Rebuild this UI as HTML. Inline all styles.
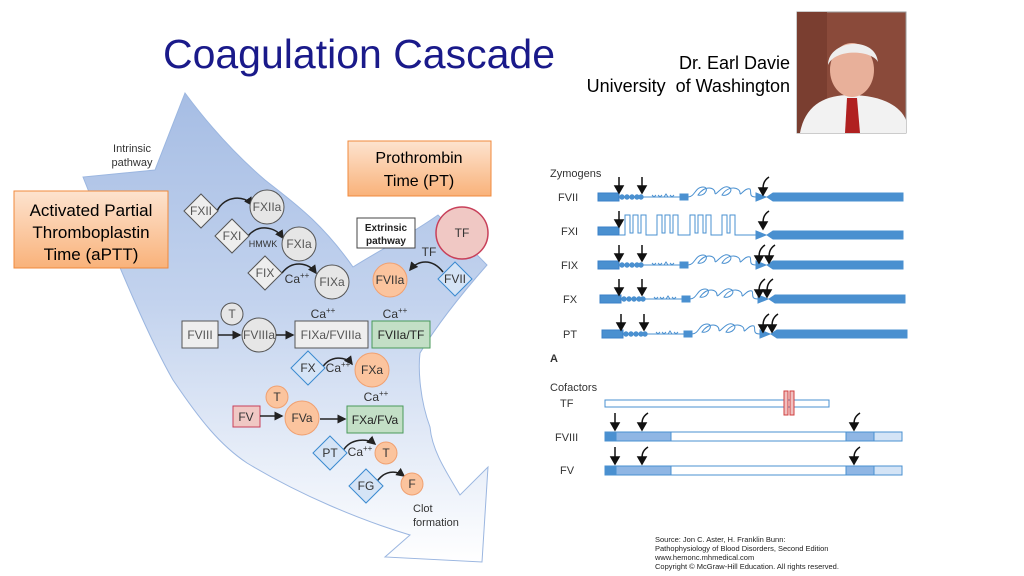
<!DOCTYPE html>
<html><head><meta charset="utf-8"><style>
html,body{margin:0;padding:0;background:#fff;}
svg{display:block;font-family:"Liberation Sans",Arial,sans-serif;}
</style></head><body>
<svg width="1024" height="576" viewBox="0 0 1024 576" xmlns="http://www.w3.org/2000/svg">
<defs>
<linearGradient id="ag" x1="0" y1="0" x2="0" y2="1">
<stop offset="0" stop-color="#a6bde4"/><stop offset="0.45" stop-color="#c3d3ee"/><stop offset="1" stop-color="#ffffff"/>
</linearGradient>
<linearGradient id="og" x1="0" y1="0" x2="0" y2="1">
<stop offset="0" stop-color="#fde3cf"/><stop offset="1" stop-color="#f9b27a"/>
</linearGradient>
<marker id="ah" markerWidth="6" markerHeight="6" refX="5" refY="3" orient="auto"><path d="M0,0 L6,3 L0,6 z" fill="#222"/></marker>
</defs>

<!-- big arrow -->
<path d="M185,93 L155,170 L83,177 C120,270 150,340 173,380 C200,420 220,445 247,463 C300,495 360,520 410,535 L385,557 L482,562 L488,467 L460,495 C445,470 432,450 430,427 C420,400 418,370 420,353 C440,320 465,290 487,265 L438,215 C410,235 380,250 353,267 C320,220 290,200 265,180 C230,150 205,120 185,93 Z" fill="url(#ag)" stroke="#9bb6e0" stroke-width="1"/>

<text x="359" y="68" font-size="41" fill="#1a1a8a" text-anchor="middle">Coagulation Cascade</text>
<text x="790" y="69" font-size="18" text-anchor="end">Dr. Earl Davie</text>
<text x="790" y="92" font-size="18" text-anchor="end">University&#160;&#160;of Washington</text>

<!-- photo -->
<rect x="797" y="12" width="109" height="121" fill="#8a4a3a" stroke="#999"/>
<rect x="797" y="12" width="30" height="121" fill="#7a3e30"/>
<path d="M800,133 C805,105 825,95 850,95 C880,95 900,105 906,120 L906,133 Z" fill="#f2f2f2"/>
<ellipse cx="852" cy="70" rx="22" ry="27" fill="#e8b09a"/>
<path d="M828,65 C828,40 875,35 878,62 C872,50 835,48 828,65 Z" fill="#eeeeee"/>
<path d="M847,98 L857,98 L860,133 L845,133 Z" fill="#b02020"/>

<text x="132" y="152" font-size="11" fill="#333" text-anchor="middle">Intrinsic</text>
<text x="132" y="166" font-size="11" fill="#333" text-anchor="middle">pathway</text>

<rect x="14" y="191" width="154" height="77" fill="url(#og)" stroke="#f08a3c" stroke-width="1"/>
<text x="91" y="216" font-size="17" text-anchor="middle">Activated Partial</text>
<text x="91" y="238" font-size="17" text-anchor="middle">Thromboplastin</text>
<text x="91" y="260" font-size="17" text-anchor="middle">Time (aPTT)</text>

<rect x="348" y="141" width="143" height="55" fill="url(#og)" stroke="#f08a3c" stroke-width="1"/>
<text x="419" y="163" font-size="16" text-anchor="middle">Prothrombin</text>
<text x="419" y="186" font-size="16" text-anchor="middle">Time (PT)</text>

<g font-size="12" fill="#555" text-anchor="middle">
<path d="M217,211 C225,195 245,195 252,205" fill="none" stroke="#222" stroke-width="1.5" marker-end="url(#ah)"/>
<polygon points="201,194 218,211 201,228 184,211" fill="#eee" stroke="#555"/>
<text x="201" y="215">FXII</text>
<circle cx="267" cy="207" r="17" fill="#e6e6e6" stroke="#555"/>
<text x="267" y="211">FXIIa</text>

<path d="M248,236 C258,224 275,226 283,238" fill="none" stroke="#222" stroke-width="1.5" marker-end="url(#ah)"/>
<polygon points="232,219 249,236 232,253 215,236" fill="#eee" stroke="#555"/>
<text x="232" y="240">FXI</text>
<text x="263" y="247" font-size="9" fill="#333">HMWK</text>
<circle cx="299" cy="244" r="17" fill="#e6e6e6" stroke="#555"/>
<text x="299" y="248">FXIa</text>

<path d="M282,273 C292,260 308,262 316,273" fill="none" stroke="#222" stroke-width="1.5" marker-end="url(#ah)"/>
<polygon points="265,256 282,273 265,290 248,273" fill="#eee" stroke="#555"/>
<text x="265" y="277">FIX</text>
<text x="297" y="283" fill="#333">Ca<tspan font-size="8" dy="-5">++</tspan></text>
<circle cx="332" cy="282" r="17" fill="#e6e6e6" stroke="#555"/>
<text x="332" y="286">FIXa</text>

<circle cx="232" cy="314" r="11" fill="#e6e6e6" stroke="#555"/>
<text x="232" y="318">T</text>
<rect x="182" y="321" width="36" height="27" fill="#eee" stroke="#555"/>
<text x="200" y="339">FVIII</text>
<line x1="218" y1="335" x2="240" y2="335" stroke="#222" stroke-width="1.5" marker-end="url(#ah)"/>
<circle cx="259" cy="335" r="17" fill="#e6e6e6" stroke="#555"/>
<text x="259" y="339">FVIIIa</text>
<line x1="276" y1="335" x2="293" y2="335" stroke="#222" stroke-width="1.5" marker-end="url(#ah)"/>
<rect x="295" y="321" width="73" height="27" fill="#eee" stroke="#555"/>
<text x="331" y="339">FIXa/FVIIIa</text>
<text x="323" y="318" fill="#333">Ca<tspan font-size="8" dy="-5">++</tspan></text>
<rect x="372" y="321" width="58" height="27" fill="#c3dfc6" stroke="#4a9a5a"/>
<text x="401" y="339" fill="#222">FVIIa/TF</text>
<text x="395" y="318" fill="#333">Ca<tspan font-size="8" dy="-5">++</tspan></text>

<rect x="357" y="218" width="58" height="30" fill="#fff" stroke="#444"/>
<text x="386" y="231" font-size="10" font-weight="bold" fill="#222">Extrinsic</text>
<text x="386" y="244" font-size="10" font-weight="bold" fill="#222">pathway</text>
<circle cx="462" cy="233" r="26" fill="#f0c8c4" stroke="#c8405a" stroke-width="1.5"/>
<text x="462" y="237" fill="#333">TF</text>
<text x="429" y="256" fill="#333">TF</text>
<path d="M443,272 C432,258 418,260 410,270" fill="none" stroke="#222" stroke-width="1.5" marker-end="url(#ah)"/>
<circle cx="390" cy="280" r="17" fill="#fbc49e" stroke="#f0a070"/>
<text x="390" y="284" fill="#333">FVIIa</text>
<polygon points="455,262 472,279 455,296 438,279" fill="#d5e4f6" stroke="#3a8ad0"/>
<text x="455" y="283" fill="#333">FVII</text>

<path d="M322,368 C330,355 346,356 352,364" fill="none" stroke="#222" stroke-width="1.5" marker-end="url(#ah)"/>
<polygon points="308,351 325,368 308,385 291,368" fill="#d5e4f6" stroke="#3a8ad0"/>
<text x="308" y="372" fill="#333">FX</text>
<text x="338" y="372" fill="#333">Ca<tspan font-size="8" dy="-5">++</tspan></text>
<circle cx="372" cy="370" r="17" fill="#fbc49e" stroke="#f0a070"/>
<text x="372" y="374" fill="#333">FXa</text>

<circle cx="277" cy="397" r="11" fill="#fbc49e" stroke="#f0a070"/>
<text x="277" y="401" fill="#333">T</text>
<rect x="233" y="406" width="27" height="21" fill="#f0c8c4" stroke="#c8405a"/>
<text x="246" y="421" fill="#333">FV</text>
<line x1="260" y1="416" x2="282" y2="416" stroke="#222" stroke-width="1.5" marker-end="url(#ah)"/>
<circle cx="302" cy="418" r="17" fill="#fbc49e" stroke="#f0a070"/>
<text x="302" y="422" fill="#333">FVa</text>
<line x1="320" y1="419" x2="345" y2="419" stroke="#222" stroke-width="1.5" marker-end="url(#ah)"/>
<rect x="347" y="406" width="56" height="27" fill="#c3dfc6" stroke="#4a9a5a"/>
<text x="375" y="424" fill="#222">FXa/FVa</text>
<text x="376" y="401" fill="#333">Ca<tspan font-size="8" dy="-5">++</tspan></text>

<path d="M343,451 C350,438 368,438 375,444" fill="none" stroke="#222" stroke-width="1.5" marker-end="url(#ah)"/>
<polygon points="330,436 347,453 330,470 313,453" fill="#d5e4f6" stroke="#3a8ad0"/>
<text x="330" y="457" fill="#333">PT</text>
<text x="360" y="456" fill="#333">Ca<tspan font-size="8" dy="-5">++</tspan></text>
<circle cx="386" cy="453" r="11" fill="#fbc49e" stroke="#f0a070"/>
<text x="386" y="457" fill="#333">T</text>

<path d="M376,483 C384,470 396,470 404,476" fill="none" stroke="#222" stroke-width="1.5" marker-end="url(#ah)"/>
<polygon points="366,469 383,486 366,503 349,486" fill="#d5e4f6" stroke="#3a8ad0"/>
<text x="366" y="490" fill="#333">FG</text>
<circle cx="412" cy="484" r="11" fill="#fbc49e" stroke="#f0a070"/>
<text x="412" y="488" fill="#333">F</text>
<text x="413" y="512" fill="#333" text-anchor="start" font-size="11">Clot</text>
<text x="413" y="526" fill="#333" text-anchor="start" font-size="11">formation</text>
</g>

<g font-size="11" fill="#333">
<text x="550" y="177">Zymogens</text>
<text x="558" y="201">FVII</text>
<text x="561" y="235">FXI</text>
<text x="561" y="269">FIX</text>
<text x="563" y="303">FX</text>
<text x="563" y="338">PT</text>
<text x="550" y="362" font-weight="bold">A</text>
<text x="550" y="391">Cofactors</text>
<text x="560" y="407">TF</text>
<text x="555" y="441">FVIII</text>
<text x="560" y="474">FV</text>
</g>

<g stroke="#4a90d0" fill="#4a90d0">
<g id="row" transform="translate(0,197)">
<rect x="598" y="-4" width="21" height="8" stroke="#3a80c8"/>
<line x1="619" y1="0" x2="680" y2="0" stroke-width="1"/>
<circle cx="622" cy="0" r="2.2"/><circle cx="627" cy="0" r="2.2"/><circle cx="632" cy="0" r="2.2"/><circle cx="637" cy="0" r="2.2"/><circle cx="641" cy="0" r="2.2"/>
<path d="M652,-2 l2,2 l2,-2 M658,-2 l2,2 l2,-2 M664,0 l2,-3 l2,3 M670,-2 l2,2 l2,-2" fill="none" stroke-width="1"/>
<rect x="680" y="-3" width="8" height="6"/>
<path d="M688,0 C695,0 695,-10 703,-10 C710,-10 705,0 698,-2 C705,-12 715,-10 715,-4 C715,0 722,-12 728,-10 C735,-8 728,0 722,-2 C728,-12 740,-10 740,-4 C740,0 745,-10 750,-8 C752,-5 748,0 756,0" fill="none" stroke-width="1"/>
<polygon points="756,-4 766,0 756,4"/>
<polygon points="767,0 773,-4 903,-4 903,4 773,4"/>
</g>
<use href="#row" transform="translate(0,68)"/>
<use href="#row" transform="translate(2,102)"/>
<use href="#row" transform="translate(4,137)"/>
<rect x="598" y="227" width="21" height="8" stroke="#3a80c8"/>
<path d="M619,235 L625,235 L625,215 L630,215 L630,233 L633,233 L633,215 L638,215 L638,233 L641,233 L641,215 L646,215 L646,235 L657,235 L657,215 L662,215 L662,233 L665,233 L665,215 L670,215 L670,233 L673,233 L673,215 L678,215 L678,235 L690,235 L690,215 L695,215 L695,233 L698,233 L698,215 L703,215 L703,233 L706,233 L706,215 L711,215 L711,235 L722,235 L722,215 L727,215 L727,233 L730,233 L730,215 L735,215 L735,235 L756,235" fill="none" stroke-width="1"/>
<polygon points="756,231 766,235 756,239"/>
<polygon points="767,235 773,231 903,231 903,239 773,239"/>

<rect x="605" y="400" width="224" height="7" fill="#fff"/>
<rect x="784" y="391" width="4" height="24" fill="#f0c0c0" stroke="#d04040"/>
<rect x="790" y="391" width="4" height="24" fill="#f0c0c0" stroke="#d04040"/>
<g id="cof">
<rect x="605" y="432" width="297" height="9" fill="#fff"/>
<rect x="605" y="432" width="11" height="9" fill="#4a90d0"/>
<rect x="616" y="432" width="55" height="9" fill="#8fb6e4"/>
<rect x="846" y="432" width="28" height="9" fill="#8fb6e4"/>
<rect x="874" y="432" width="28" height="9" fill="#d4e4f6"/>
</g>
<use href="#cof" transform="translate(0,34)"/>
</g>

<g stroke="#111" stroke-width="1.5" fill="#111">
<g id="arr2">
<line x1="619" y1="177" x2="619" y2="188"/><polygon points="615,186 619,193 623,186"/>
<line x1="642" y1="177" x2="642" y2="188"/><polygon points="638,186 642,193 646,186"/>
</g>
<use href="#arr2" transform="translate(0,68)"/>
<use href="#arr2" transform="translate(0,102)"/>
<use href="#arr2" transform="translate(2,137)"/>
<line x1="619" y1="211" x2="619" y2="222"/><polygon points="615,220 619,227 623,220"/>
<g id="cu" fill="none">
<path d="M769,177 C763,181 763,186 763,190"/><polygon points="759,188 763,195 767,188" fill="#111"/>
</g>
<use href="#cu" transform="translate(0,34)"/>
<use href="#cu" transform="translate(-4,68)"/><use href="#cu" transform="translate(6,68)"/>
<use href="#cu" transform="translate(-4,102)"/><use href="#cu" transform="translate(4,102)"/>
<use href="#cu" transform="translate(0,137)"/><use href="#cu" transform="translate(9,137)"/>
<g id="carr">
<line x1="615" y1="413" x2="615" y2="425"/><polygon points="611,423 615,430 619,423" fill="#111"/>
<path d="M648,413 C642,417 642,421 642,425" fill="none"/><polygon points="638,423 642,430 646,423" fill="#111"/>
<path d="M860,413 C854,417 854,421 854,425" fill="none"/><polygon points="850,423 854,430 858,423" fill="#111"/>
</g>
<use href="#carr" transform="translate(0,34)"/>
</g>

<g font-size="7.5" fill="#222">
<text x="655" y="542">Source: Jon C. Aster, H. Franklin Bunn:</text>
<text x="655" y="551">Pathophysiology of Blood Disorders, Second Edition</text>
<text x="655" y="560">www.hemonc.mhmedical.com</text>
<text x="655" y="569">Copyright © McGraw-Hill Education. All rights reserved.</text>
</g>
</svg>
</body></html>
